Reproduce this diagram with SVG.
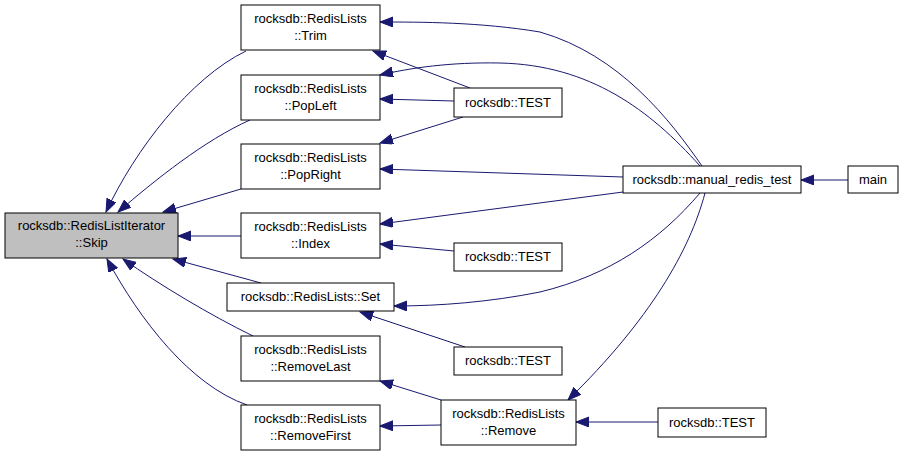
<svg xmlns="http://www.w3.org/2000/svg" width="917" height="456" viewBox="0 0 917 456">
<style>
.n rect{fill:#fff;stroke:#000;stroke-width:1}
.n.hl rect{fill:#bfbfbf}
.n text{font-family:"Liberation Sans",Arial,Helvetica,sans-serif;font-size:13px;fill:#000;text-anchor:middle}
.e path{fill:none;stroke:#191970;stroke-width:1;marker-end:url(#ah)}
</style>
<defs>
<marker id="ah" markerUnits="userSpaceOnUse" markerWidth="14" markerHeight="11" refX="13" refY="5" orient="auto">
<path d="M0,0 L13,5 L0,10 z" fill="#191970" stroke="#191970" stroke-width="1"/>
</marker>
</defs>
<rect width="917" height="456" fill="#fff"/>
<g id="edges" class="e">
<path d="M246,51 C190,78 135,150 106,212"/>
<path d="M250,120 C205,140 155,180 118,212"/>
<path d="M241,189 L163,212"/>
<path d="M241,236 L178,236"/>
<path d="M261,283 L173,259"/>
<path d="M253,336 C210,315 160,285 123,259"/>
<path d="M247,405 C190,385 140,320 107,259"/>
<path d="M702,166 C670,120 620,55 540,32 C480,22 420,22 380,22"/>
<path d="M470,88 L373,51"/>
<path d="M700,166 C650,110 590,65 500,63 C450,62 410,68 380,75"/>
<path d="M454,101 L380,99"/>
<path d="M463,117 L380,143"/>
<path d="M623,177 L380,169"/>
<path d="M623,192 L380,224"/>
<path d="M454,251 L380,244"/>
<path d="M700,193 C660,240 610,275 540,292 C490,302 440,306 394,306"/>
<path d="M465,347 L360,312"/>
<path d="M441,400 L380,381"/>
<path d="M441,425 L380,426"/>
<path d="M705,193 C690,250 650,320 568,400"/>
<path d="M658,422 L576,422"/>
<path d="M848,180 L801,180"/>
</g>
<g id="skip" class="n hl"><rect x="5" y="213" width="173" height="45"/><text x="91.5" y="230">rocksdb::RedisListIterator</text><text x="91.5" y="247">::Skip</text></g>
<g id="trim" class="n"><rect x="241" y="5" width="139" height="45"/><text x="310.5" y="23">rocksdb::RedisLists</text><text x="310.5" y="40">::Trim</text></g>
<g id="popleft" class="n"><rect x="241" y="75" width="139" height="45"/><text x="310.5" y="93">rocksdb::RedisLists</text><text x="310.5" y="110">::PopLeft</text></g>
<g id="popright" class="n"><rect x="241" y="144" width="139" height="45"/><text x="310.5" y="162">rocksdb::RedisLists</text><text x="310.5" y="179">::PopRight</text></g>
<g id="index" class="n"><rect x="241" y="213" width="139" height="45"/><text x="310.5" y="231">rocksdb::RedisLists</text><text x="310.5" y="248">::Index</text></g>
<g id="set" class="n"><rect x="227" y="283" width="167" height="28"/><text x="310.5" y="301">rocksdb::RedisLists::Set</text></g>
<g id="removelast" class="n"><rect x="241" y="336" width="139" height="45"/><text x="310.5" y="354">rocksdb::RedisLists</text><text x="310.5" y="371">::RemoveLast</text></g>
<g id="removefirst" class="n"><rect x="241" y="405" width="139" height="45"/><text x="310.5" y="423">rocksdb::RedisLists</text><text x="310.5" y="440">::RemoveFirst</text></g>
<g id="test1" class="n"><rect x="454" y="88" width="108" height="29"/><text x="508" y="107">rocksdb::TEST</text></g>
<g id="test2" class="n"><rect x="454" y="243" width="108" height="28"/><text x="508" y="261">rocksdb::TEST</text></g>
<g id="test3" class="n"><rect x="454" y="347" width="108" height="28"/><text x="508" y="365">rocksdb::TEST</text></g>
<g id="remove" class="n"><rect x="441" y="400" width="135" height="45"/><text x="508.5" y="418">rocksdb::RedisLists</text><text x="508.5" y="435">::Remove</text></g>
<g id="test4" class="n"><rect x="658" y="408" width="108" height="29"/><text x="712" y="427">rocksdb::TEST</text></g>
<g id="manual" class="n"><rect x="623" y="166" width="178" height="27"/><text x="712" y="184">rocksdb::manual_redis_test</text></g>
<g id="main" class="n"><rect x="848" y="166" width="50" height="27"/><text x="873" y="184">main</text></g>
</svg>
